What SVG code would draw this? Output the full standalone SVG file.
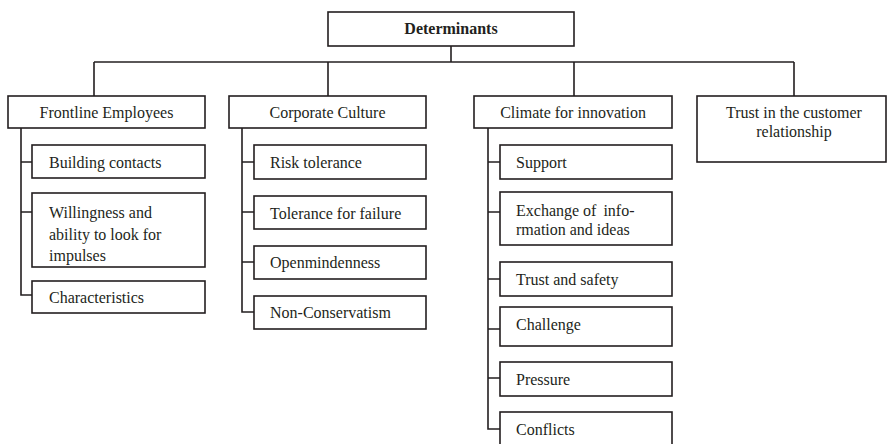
<svg xmlns="http://www.w3.org/2000/svg" width="887" height="444" viewBox="0 0 887 444">
  <style>
    .box { fill: #ffffff; stroke: #231f20; stroke-width: 1.6; }
    .wire { fill: none; stroke: #231f20; stroke-width: 1.6; }
    text { font-family: "Liberation Serif", "Times New Roman", serif; font-size: 16px; fill: #231f20; }
    .mid { text-anchor: middle; }
    .bold { font-weight: bold; }
  </style>
  <rect width="887" height="444" fill="#ffffff"/>

  <!-- connectors -->
  <g id="connectors" class="wire">
    <!-- root to bus -->
    <path d="M451 46 V62"/>
    <path d="M94 62 H794"/>
    <path d="M94 62 V96 M328 62 V96 M574 62 V96 M794 62 V96"/>
    <!-- Frontline Employees branch -->
    <path d="M21 128 V295 H32 M21 162 H32 M21 212 H32"/>
    <!-- Corporate Culture branch -->
    <path d="M242 128 V312 H254 M242 162 H254 M242 212 H254 M242 262 H254"/>
    <!-- Climate for innovation branch -->
    <path d="M488 128 V429 H500 M488 162 H500 M488 212 H500 M488 279 H500 M488 329 H500 M488 378 H500"/>
  </g>

  <!-- root -->
  <g id="determinants">
    <rect class="box" x="328" y="12" width="246" height="34"/>
    <text class="mid bold" x="451" y="34">Determinants</text>
  </g>

  <!-- first level -->
  <g id="frontline-employees">
    <rect class="box" x="8" y="96" width="197" height="32"/>
    <text class="mid" x="106.5" y="118">Frontline Employees</text>
  </g>
  <g id="corporate-culture">
    <rect class="box" x="229" y="96" width="197" height="32"/>
    <text class="mid" x="327.5" y="118">Corporate Culture</text>
  </g>
  <g id="climate-for-innovation">
    <rect class="box" x="474" y="96" width="198" height="32"/>
    <text class="mid" x="573" y="118">Climate for innovation</text>
  </g>
  <g id="trust-customer-relationship">
    <rect class="box" x="697" y="96" width="189" height="66"/>
    <text class="mid" x="794" y="118">Trust in the customer</text>
    <text class="mid" x="794" y="137">relationship</text>
  </g>

  <!-- Frontline Employees children -->
  <g id="building-contacts">
    <rect class="box" x="32" y="145" width="173" height="33"/>
    <text x="49" y="168">Building contacts</text>
  </g>
  <g id="willingness">
    <rect class="box" x="32" y="193" width="173" height="74"/>
    <text x="49" y="218">Willingness and</text>
    <text x="49" y="240">ability to look for</text>
    <text x="49" y="261">impulses</text>
  </g>
  <g id="characteristics">
    <rect class="box" x="32" y="281" width="173" height="32"/>
    <text x="49" y="303">Characteristics</text>
  </g>

  <!-- Corporate Culture children -->
  <g id="risk-tolerance">
    <rect class="box" x="254" y="145" width="172" height="34"/>
    <text x="270" y="168">Risk tolerance</text>
  </g>
  <g id="tolerance-for-failure">
    <rect class="box" x="254" y="196" width="172" height="33"/>
    <text x="270" y="219">Tolerance for failure</text>
  </g>
  <g id="openmindenness">
    <rect class="box" x="254" y="246" width="172" height="33"/>
    <text x="270" y="268">Openmindenness</text>
  </g>
  <g id="non-conservatism">
    <rect class="box" x="254" y="296" width="172" height="33"/>
    <text x="270" y="318">Non-Conservatism</text>
  </g>

  <!-- Climate for innovation children -->
  <g id="support">
    <rect class="box" x="500" y="145" width="172" height="34"/>
    <text x="516" y="168">Support</text>
  </g>
  <g id="exchange">
    <rect class="box" x="500" y="192" width="172" height="53"/>
    <text x="516" y="216">Exchange of <tspan dx="3">info-</tspan></text>
    <text x="516" y="235">rmation and ideas</text>
  </g>
  <g id="trust-and-safety">
    <rect class="box" x="500" y="262" width="172" height="34"/>
    <text x="516" y="285">Trust and safety</text>
  </g>
  <g id="challenge">
    <rect class="box" x="500" y="307" width="172" height="39"/>
    <text x="516" y="330">Challenge</text>
  </g>
  <g id="pressure">
    <rect class="box" x="500" y="362" width="172" height="34"/>
    <text x="516" y="385">Pressure</text>
  </g>
  <g id="conflicts">
    <rect class="box" x="500" y="412" width="172" height="40"/>
    <text x="516" y="435">Conflicts</text>
  </g>
</svg>
